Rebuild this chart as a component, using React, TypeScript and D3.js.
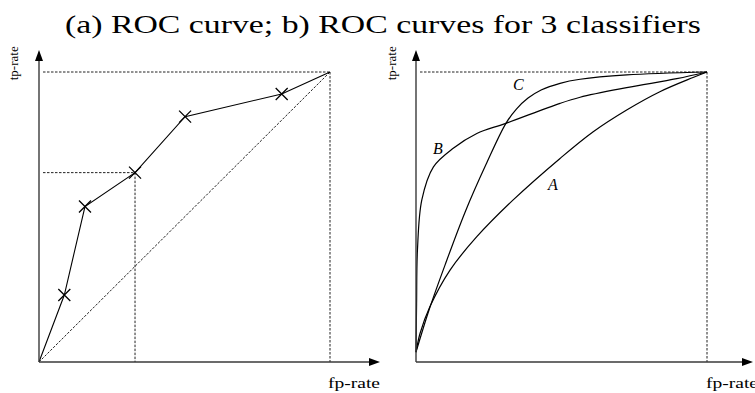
import React from "react";
import * as d3 from "d3";

const W = 755;
const H = 393;

const title = "(a) ROC curve; b) ROC curves for 3 classifiers";
const xLabel = "fp-rate";
const yLabel = "tp-rate";

// (a) single classifier: ROC points (fp-rate, tp-rate)
const rocFp = [0, 0.087, 0.158, 0.33, 0.502, 0.834, 1];
const rocTp = [0, 0.231, 0.536, 0.653, 0.846, 0.924, 1];
const markedIndex = 3; // operating point projected onto both axes

// (b) three classifiers
const curveAFp = [0, 0.014, 0.048, 0.117, 0.209, 0.334, 0.495, 0.609, 0.724, 0.838, 0.952, 1];
const curveATp = [0.034, 0.099, 0.191, 0.317, 0.432, 0.559, 0.702, 0.794, 0.869, 0.932, 0.981, 1];

const curveBFp = [0, 0.002, 0.005, 0.02, 0.06, 0.128, 0.209, 0.309, 0.495, 0.564, 0.724, 0.896, 1];
const curveBTp = [0.034, 0.2, 0.386, 0.559, 0.673, 0.737, 0.788, 0.823, 0.892, 0.913, 0.946, 0.977, 1];

const curveCFp = [0, 0.045, 0.1, 0.17, 0.24, 0.309, 0.345, 0.385, 0.43, 0.495, 0.564, 0.724, 1];
const curveCTp = [0.034, 0.18, 0.335, 0.52, 0.68, 0.823, 0.872, 0.91, 0.938, 0.961, 0.975, 0.99, 1];

const classifierNames = ["A", "B", "C"];
const classifierLabelFp = [0.454, 0.058, 0.333];
const classifierLabelTp = [0.593, 0.717, 0.938];

const INK = "#000";
const AXIS = "#3a3a3a";
const DASH = "#222";
const SERIF = "Liberation Serif, Times New Roman, Times, serif";

type Panel = {
  x: d3.ScaleLinear<number, number>;
  y: d3.ScaleLinear<number, number>;
  xEnd: number;
  yEnd: number;
};

function makePanel(left: number, right: number, arrowX: number): Panel {
  const x = d3.scaleLinear().domain([0, 1]).range([left, right]);
  const y = d3.scaleLinear().domain([0, 1]).range([362, 72]);
  return { x, y, xEnd: x.invert(arrowX), yEnd: y.invert(50) };
}

const zip = (a: number[], b: number[]): [number, number][] => a.map((v, i) => [v, b[i]]);

function Axes({ p, labelX, labelYx, labelXBaseline }: { p: Panel; labelX: number; labelYx: number; labelXBaseline: number }) {
  const x0 = p.x(0);
  const y0 = p.y(0);
  const xt = p.x(p.xEnd);
  const yt = p.y(p.yEnd);
  const len = 11;
  const half = 4;
  return (
    <g>
      <line x1={x0} y1={y0} x2={xt - len + 1} y2={y0} stroke={AXIS} strokeWidth={1.4} />
      <line x1={x0} y1={y0} x2={x0} y2={yt + len - 1} stroke={AXIS} strokeWidth={1.4} />
      <path d={`M${xt},${y0}L${xt - len},${y0 - half}L${xt - len},${y0 + half}Z`} fill={INK} />
      <path d={`M${x0},${yt}L${x0 - half},${yt + len}L${x0 + half},${yt + len}Z`} fill={INK} />
      <text
        x={labelX}
        y={labelXBaseline}
        style={{ fontFamily: SERIF }}
        fontSize={15}
        textLength={52}
        lengthAdjust="spacingAndGlyphs"
        fill={INK}
      >
        {xLabel}
      </text>
      <text
        transform={`translate(${labelYx},${p.y(1.03)}) rotate(-90)`}
        textAnchor="middle"
        style={{ fontFamily: SERIF }}
        fontSize={13}
        fill={INK}
      >
        {yLabel}
      </text>
    </g>
  );
}

function Dashed({ x1, y1, x2, y2 }: { x1: number; y1: number; x2: number; y2: number }) {
  return <line x1={x1} y1={y1} x2={x2} y2={y2} stroke={DASH} strokeWidth={1} strokeDasharray="2.5,1.5" />;
}

export default function App() {
  const left = makePanel(39, 330, 380);
  const right = makePanel(416, 707, 753);

  const polyline = d3.line<[number, number]>()
    .x((d) => left.x(d[0]))
    .y((d) => left.y(d[1]));

  const smooth = d3.line<[number, number]>()
    .x((d) => right.x(d[0]))
    .y((d) => right.y(d[1]))
    .curve(d3.curveCatmullRom.alpha(0.5));

  const rocPts = zip(rocFp, rocTp);
  const curves = [zip(curveAFp, curveATp), zip(curveBFp, curveBTp), zip(curveCFp, curveCTp)];
  const cross = 6;

  return (
    <div style={{ position: "absolute", left: 0, top: 0 }}>
      <svg width={W} height={H} viewBox={`0 0 ${W} ${H}`} style={{ display: "block", background: "#fff" }}>
        <text
          x={65}
          y={33}
          style={{ fontFamily: SERIF }}
          fontSize={26}
          textLength={636}
          lengthAdjust="spacingAndGlyphs"
          fill={INK}
        >
          {title}
        </text>

        {/* (a) */}
        <g>
          <Dashed x1={left.x(0) + 4} y1={left.y(1)} x2={left.x(1)} y2={left.y(1)} />
          <Dashed x1={left.x(1)} y1={left.y(1)} x2={left.x(1)} y2={left.y(0)} />
          <Dashed x1={left.x(0)} y1={left.y(0)} x2={left.x(1)} y2={left.y(1)} />
          <Dashed
            x1={left.x(0) + 4}
            y1={left.y(rocTp[markedIndex])}
            x2={left.x(rocFp[markedIndex])}
            y2={left.y(rocTp[markedIndex])}
          />
          <Dashed
            x1={left.x(rocFp[markedIndex])}
            y1={left.y(rocTp[markedIndex])}
            x2={left.x(rocFp[markedIndex])}
            y2={left.y(0)}
          />
          <path d={polyline(rocPts) ?? ""} fill="none" stroke={INK} strokeWidth={1.1} />
          {rocPts.slice(1, -1).map(([f, t], i) => {
            const cx = left.x(f);
            const cy = left.y(t);
            return (
              <path
                key={i}
                d={`M${cx - cross},${cy - cross}L${cx + cross},${cy + cross}M${cx - cross},${cy + cross}L${cx + cross},${cy - cross}`}
                stroke={INK}
                strokeWidth={1.3}
              />
            );
          })}
          <Axes p={left} labelX={328} labelYx={18} labelXBaseline={388} />
        </g>

        {/* (b) */}
        <g>
          <Dashed x1={right.x(0) + 4} y1={right.y(1)} x2={right.x(1)} y2={right.y(1)} />
          <Dashed x1={right.x(1)} y1={right.y(1)} x2={right.x(1)} y2={right.y(0)} />
          {curves.map((c, i) => (
            <path key={i} d={smooth(c) ?? ""} fill="none" stroke={INK} strokeWidth={1.2} />
          ))}
          {classifierNames.map((n, i) => (
            <text
              key={n}
              x={right.x(classifierLabelFp[i])}
              y={right.y(classifierLabelTp[i])}
              style={{ fontFamily: SERIF }}
              fontStyle="italic"
              fontSize={16}
              fill={INK}
            >
              {n}
            </text>
          ))}
          <Axes p={right} labelX={706} labelYx={396} labelXBaseline={388} />
        </g>
      </svg>
    </div>
  );
}
